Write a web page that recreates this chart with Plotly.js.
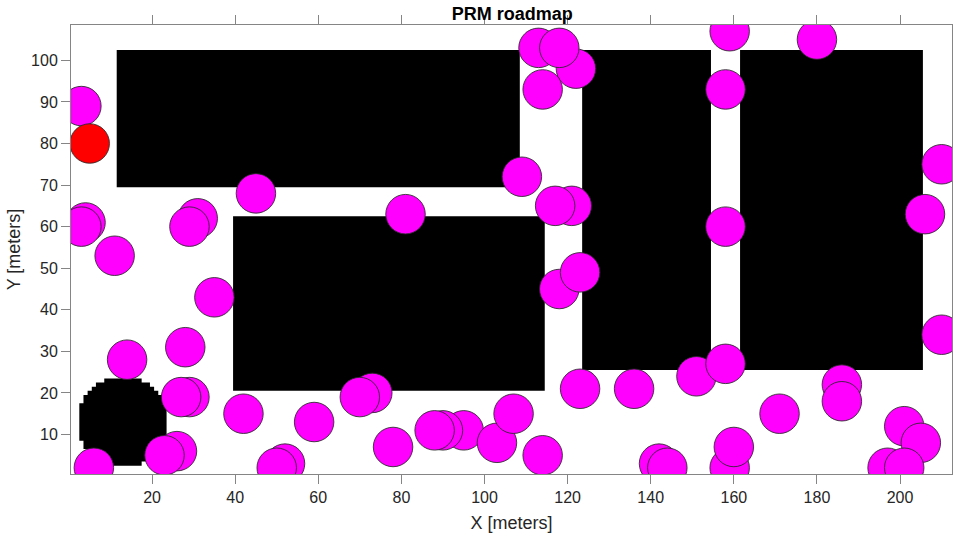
<!DOCTYPE html>
<html>
<head>
<meta charset="utf-8">
<script src="https://cdn.plot.ly/plotly-3.0.1.min.js"></script>
<style>html,body{margin:0;padding:0;background:#fff;}#chart{width:953px;height:534px;}</style>
</head>
<body>
<div id="chart"></div>
<script>
// Roadmap nodes (draw order matters for overlaps)
var nodeX = [3, 4, 3, 11, 31, 29, 35, 45, 14, 28, 29, 27, 26, 23, 6, 42, 52, 50, 59, 73, 70, 78,
             95, 90, 88, 103, 107, 114, 81, 109, 113, 122, 118, 114, 121, 117, 118, 123, 123, 136,
             151, 158, 158, 158, 159, 180, 210, 206, 210, 186, 186, 171, 159, 160, 142, 144, 201, 205, 197, 201];
var nodeY = [89, 61, 60, 53, 62, 60, 43, 68, 28, 31, 19, 19, 6, 5, 2, 15, 3, 2, 13, 20, 19, 7,
             11, 11, 11, 8, 15, 5, 63, 72, 103, 98, 103, 93, 65, 65, 45, 49, 21, 21,
             24, 27, 60, 93, 107, 105, 75, 63, 34, 22, 18, 15, 2, 7, 3, 2, 12, 8, 2, 2];
// Start node
var startX = [5];
var startY = [80];

// Rectangular obstacles
var obsX0 = [11.5, 39.5, 123.5, 161.5];
var obsX1 = [108.5, 114.5, 154.5, 205.5];
var obsY0 = [69.5, 20.5, 25.5, 25.5];
var obsY1 = [102.5, 62.5, 102.5, 102.5];

// Rasterized round obstacle: grid rows and half-widths (cells) about column 13
var blobCenterX = 13;
var blobRowY = [3, 4, 5, 6, 7, 8, 9, 10, 11, 12, 13, 14, 15, 16, 17, 18, 19, 20, 21, 22, 23];
var blobHalfW = [4, 6, 7, 8, 9, 9, 10, 10, 10, 10, 10, 10, 10, 10, 10, 9, 9, 8, 7, 6, 4];

var shapes = [];
for (var i = 0; i < obsX0.length; i++) {
  shapes.push({type: 'rect', xref: 'x', yref: 'y', x0: obsX0[i], x1: obsX1[i], y0: obsY0[i], y1: obsY1[i],
               fillcolor: '#000', line: {width: 0}, layer: 'below'});
}
// staircase outline of the rasterized obstacle
var pts = [];
for (var j = 0; j < blobRowY.length; j++) {
  var xr = blobCenterX + blobHalfW[j] + 0.5;
  pts.push([xr, blobRowY[j] - 0.5], [xr, blobRowY[j] + 0.5]);
}
for (var k = blobRowY.length - 1; k >= 0; k--) {
  var xl = blobCenterX - blobHalfW[k] - 0.5;
  pts.push([xl, blobRowY[k] + 0.5], [xl, blobRowY[k] - 0.5]);
}
var path = 'M ' + pts.map(function (p) { return p[0] + ',' + p[1]; }).join(' L ') + ' Z';
shapes.push({type: 'path', xref: 'x', yref: 'y', path: path, fillcolor: '#000',
             line: {width: 0}, layer: 'below'});

var font = 'Liberation Sans, Arial, Helvetica, sans-serif';
var traces = [
  {type: 'scatter', mode: 'markers', x: nodeX, y: nodeY, cliponaxis: true, hoverinfo: 'skip',
   marker: {size: 39.5, color: '#ff00ff', line: {color: 'rgba(40,40,40,0.85)', width: 1}}},
  {type: 'scatter', mode: 'markers', x: startX, y: startY, cliponaxis: true, hoverinfo: 'skip',
   marker: {size: 39.5, color: '#ff0000', line: {color: 'rgba(40,40,40,0.85)', width: 1}}}
];

var axisCommon = {
  showgrid: false, zeroline: false, showline: true, linecolor: '#858585', linewidth: 1,
  mirror: 'ticks', ticks: 'outside', ticklen: 9, tickcolor: '#858585', tickwidth: 1,
  tickfont: {family: font, size: 16, color: '#262626'}
};

var layout = {
  width: 953, height: 534,
  margin: {l: 71, r: 1, t: 25, b: 60, pad: 0},
  paper_bgcolor: '#fff', plot_bgcolor: '#fff',
  showlegend: false,
  title: {text: 'PRM roadmap', x: 0.5375, xanchor: 'center', y: 1 - 13.5/534, yanchor: 'middle', yref: 'container',
          font: {family: font, size: 18, color: '#000', weight: 'bold'}},
  xaxis: Object.assign({}, axisCommon, {range: [0.5, 212.5], tick0: 0, dtick: 20,
          title: {text: 'X [meters]', font: {family: font, size: 18, color: '#262626'}, standoff: 11}}),
  yaxis: Object.assign({}, axisCommon, {range: [0.5, 108.5], tick0: 0, dtick: 10,
          title: {text: 'Y [meters]', font: {family: font, size: 18, color: '#262626'}, standoff: 5}}),
  shapes: shapes
};

Plotly.newPlot('chart', traces, layout, {displayModeBar: false, staticPlot: true});
</script>
</body>
</html>
